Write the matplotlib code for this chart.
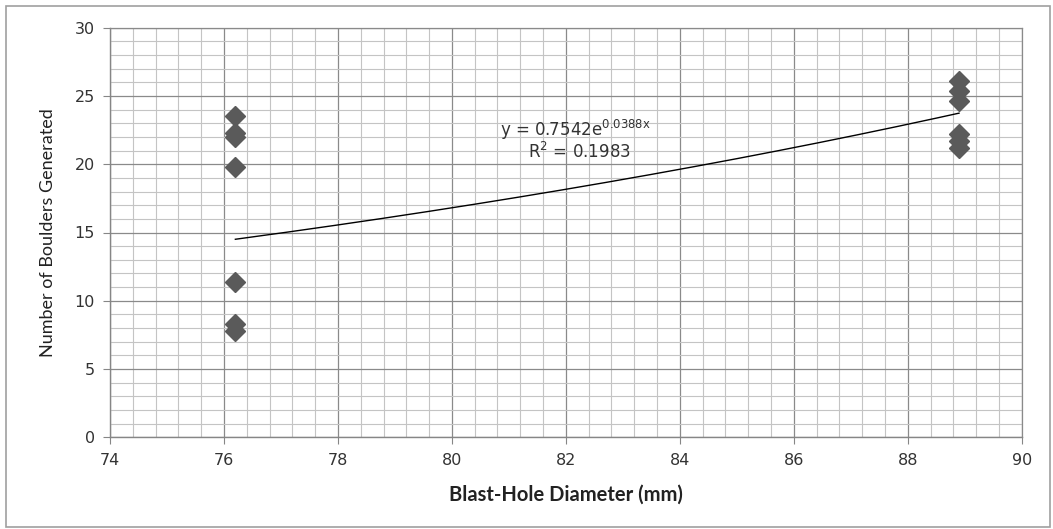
import matplotlib
matplotlib.use("Agg")
import matplotlib.pyplot as plt
import numpy as np
from matplotlib.ticker import MultipleLocator
from matplotlib.patches import Rectangle

# Data
diam_small = [76.2] * 7
boulders_small = [23.5, 22.3, 22.0, 19.8, 11.35, 8.3, 7.75]
diam_large = [88.9] * 6
boulders_large = [26.1, 25.4, 24.6, 22.2, 21.7, 21.2]
fit_a = 0.7542
fit_b = 0.0388
r2 = 0.1983

x_ticks = [74, 76, 78, 80, 82, 84, 86, 88, 90]
y_ticks = [0, 5, 10, 15, 20, 25, 30]

plt.rcParams['font.family'] = ['DejaVu Sans']

fig = plt.figure(figsize=(10.53, 5.29), dpi=100)
ax = fig.add_axes([110/1053, 1-437.3/529, (1021.7-110)/1053, (437.3-27.7)/529])

# border around chart
fig.patches.append(Rectangle((6/1053, 1-527/529), 1044/1053, 521/529,
                             transform=fig.transFigure, fill=False,
                             edgecolor='#a0a0a0', linewidth=1.2))

ax.set_xlim(74, 90)
ax.set_ylim(0, 30)
ax.set_xticks(x_ticks)
ax.set_yticks(y_ticks)
ax.xaxis.set_minor_locator(MultipleLocator(0.4))
ax.yaxis.set_minor_locator(MultipleLocator(1))
ax.grid(which='major', color='#8a8a8a', linewidth=0.9)
ax.grid(which='minor', color='#c4c4c4', linewidth=0.8)
ax.set_axisbelow(True)
ax.tick_params(which='minor', length=0)
ax.tick_params(which='major', length=5, direction='out', color='#868686',
               labelsize=11.5, labelcolor='#333333', pad=6)
for s in ['left', 'bottom']:
    ax.spines[s].set_color('#868686')
    ax.spines[s].set_linewidth(1.0)
for s in ['top', 'right']:
    ax.spines[s].set_color('#8a8a8a')
    ax.spines[s].set_linewidth(0.9)

ax.plot(diam_small, boulders_small, linestyle='none', marker='D', ms=10.5,
        color='#5a5a5a', mec='#5a5a5a', zorder=3)
ax.plot(diam_large, boulders_large, linestyle='none', marker='D', ms=10.5,
        color='#5a5a5a', mec='#5a5a5a', zorder=3)

xx = np.linspace(min(diam_small), max(diam_large), 200)
ax.plot(xx, fit_a * np.exp(fit_b * xx), color='black', linewidth=1.0, zorder=4)

ax.text(80.84, 22.5, r'y = 0.7542e$^{\mathrm{0.0388x}}$', fontsize=12, color='#333333',
        va='center', ha='left')
ax.text(81.34, 20.9, r'R$^{2}$ = 0.1983', fontsize=12, color='#333333',
        va='center', ha='left')

ax.set_xlabel('Blast-Hole Diameter (mm)', family='Lato', fontweight='bold',
              fontsize=14.5, color='#222222', labelpad=12)
ax.set_ylabel('Number of Boulders Generated', family='Lato', fontsize=13,
              color='#222222', labelpad=13)

fig.savefig('out.png', dpi=100)
